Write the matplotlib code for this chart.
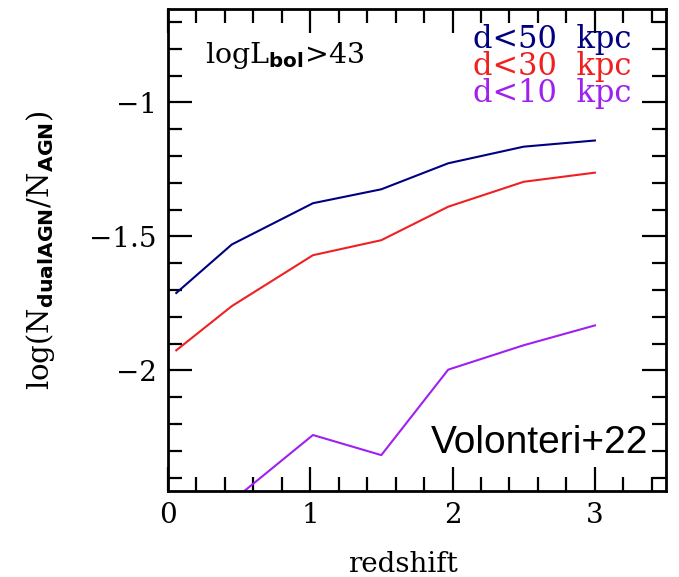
import matplotlib
matplotlib.use("Agg")
import matplotlib.pyplot as plt
from matplotlib.ticker import MultipleLocator

# Data
redshift = [0.06, 0.45, 1.02, 1.50, 1.97, 2.50, 3.00]
frac_d50 = [-1.711, -1.530, -1.376, -1.324, -1.227, -1.165, -1.142]
frac_d30 = [-1.925, -1.760, -1.570, -1.514, -1.389, -1.296, -1.262]
frac_d10 = [-2.650, -2.488, -2.241, -2.316, -1.997, -1.906, -1.832]
series_labels = ["d<50  kpc", "d<30  kpc", "d<10  kpc"]
series_colors = ["#000080", "#f02020", "#a020f0"]
ytick_vals = [-2, -1.5, -1]
ytick_labels = ['\u22122', '\u22121.5', '\u22121']

plt.rcParams['font.family'] = ['DejaVu Serif']
plt.rcParams['mathtext.fontset'] = 'custom'
plt.rcParams['mathtext.rm'] = 'DejaVu Serif'
plt.rcParams['mathtext.it'] = 'DejaVu Serif'
plt.rcParams['mathtext.bf'] = 'DejaVu Sans:bold'

fig = plt.figure(figsize=(6.79, 5.77), dpi=100)
ax = fig.add_axes([0.247, 0.149, 0.734, 0.836])

for ys, c in zip([frac_d50, frac_d30, frac_d10], series_colors):
    ax.plot(redshift, ys, color=c, lw=1.5)

ax.set_xlim(0, 3.5)
ax.set_ylim(-2.45, -0.65)
ax.xaxis.set_major_locator(MultipleLocator(1))
ax.xaxis.set_minor_locator(MultipleLocator(0.2))
ax.yaxis.set_minor_locator(MultipleLocator(0.1))
ax.set_yticks(ytick_vals)
ax.set_yticklabels(ytick_labels)
ax.tick_params(which='both', direction='in', top=True, right=True, width=1.6,
               labelsize=20, pad=8)
ax.tick_params(which='major', length=17)
ax.tick_params(which='minor', length=10)
for s in ax.spines.values():
    s.set_linewidth(2.0)

ax.set_xlabel('redshift', fontsize=20)
ax.xaxis.label.set_va('baseline')
ax.xaxis.set_label_coords(0.472, -0.168)
ax.set_ylabel(r'$\mathrm{log(N_{\mathbf{dualAGN}}/N_{\mathbf{AGN}})}$', fontsize=21)
ax.yaxis.set_label_coords(-0.223, 0.5)

ax.text(0.075, 0.887, r'$\mathrm{logL_{\mathbf{bol}}}$>43', transform=ax.transAxes,
        fontsize=20.5, ha='left', va='baseline')
for i, (lab, c) in enumerate(zip(series_labels, series_colors)):
    ax.text(0.930, 0.918 - i * 0.056, lab, transform=ax.transAxes, color=c,
            fontsize=22, ha='right', va='baseline')

ax.text(0.965, 0.079, 'Volonteri+22', transform=ax.transAxes, fontsize=28,
        family='Liberation Sans', ha='right', va='baseline')

fig.savefig('out.png', dpi=100)
